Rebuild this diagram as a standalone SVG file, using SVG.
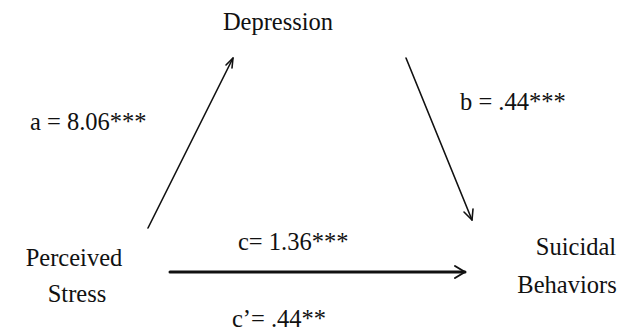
<svg xmlns="http://www.w3.org/2000/svg" width="617" height="331" viewBox="0 0 617 331">
<defs>
<marker id="unused" markerWidth="1" markerHeight="1"/>
</defs>
<rect width="617" height="331" fill="#fff"/>
<g id="depression"><text font-family="Liberation Serif" font-size="24.5" fill="#111" x="278" y="30" text-anchor="middle">Depression</text></g>
<g id="perceived-stress"><text font-family="Liberation Serif" font-size="24.5" fill="#111" x="74" y="266" text-anchor="middle">Perceived</text><text font-family="Liberation Serif" font-size="24.5" fill="#111" x="77" y="302" text-anchor="middle">Stress</text></g>
<g id="suicidal-behaviors"><text font-family="Liberation Serif" font-size="24.5" fill="#111" x="576" y="255" text-anchor="middle">Suicidal</text><text font-family="Liberation Serif" font-size="24.5" fill="#111" x="567" y="293" text-anchor="middle">Behaviors</text></g>
<g id="labels">
<text font-family="Liberation Serif" font-size="24.5" fill="#111" x="30" y="130">a = 8.06***</text>
<text font-family="Liberation Serif" font-size="24.5" fill="#111" x="460" y="110">b = .44***</text>
<text font-family="Liberation Serif" font-size="24.5" fill="#111" x="238" y="250">c= 1.36***</text>
<text font-family="Liberation Serif" font-size="24.5" fill="#111" x="232" y="327">c’= .44**</text>
</g>
<g id="connectors" stroke="#111" fill="none" stroke-linecap="round" stroke-linejoin="round">
<path stroke-width="1.6" d="M148 228 L233 58"/>
<path stroke-width="1.6" d="M226 65 L233 58 L232 68"/>
<path stroke-width="1.6" d="M406 58 L472 220"/>
<path stroke-width="1.6" d="M464 212 L472 220 L473 209"/>
<path stroke-width="3" d="M170 272 L465 272"/>
<path stroke-width="2" d="M455 266 L465 272 L455 278"/>
</g>
</svg>
